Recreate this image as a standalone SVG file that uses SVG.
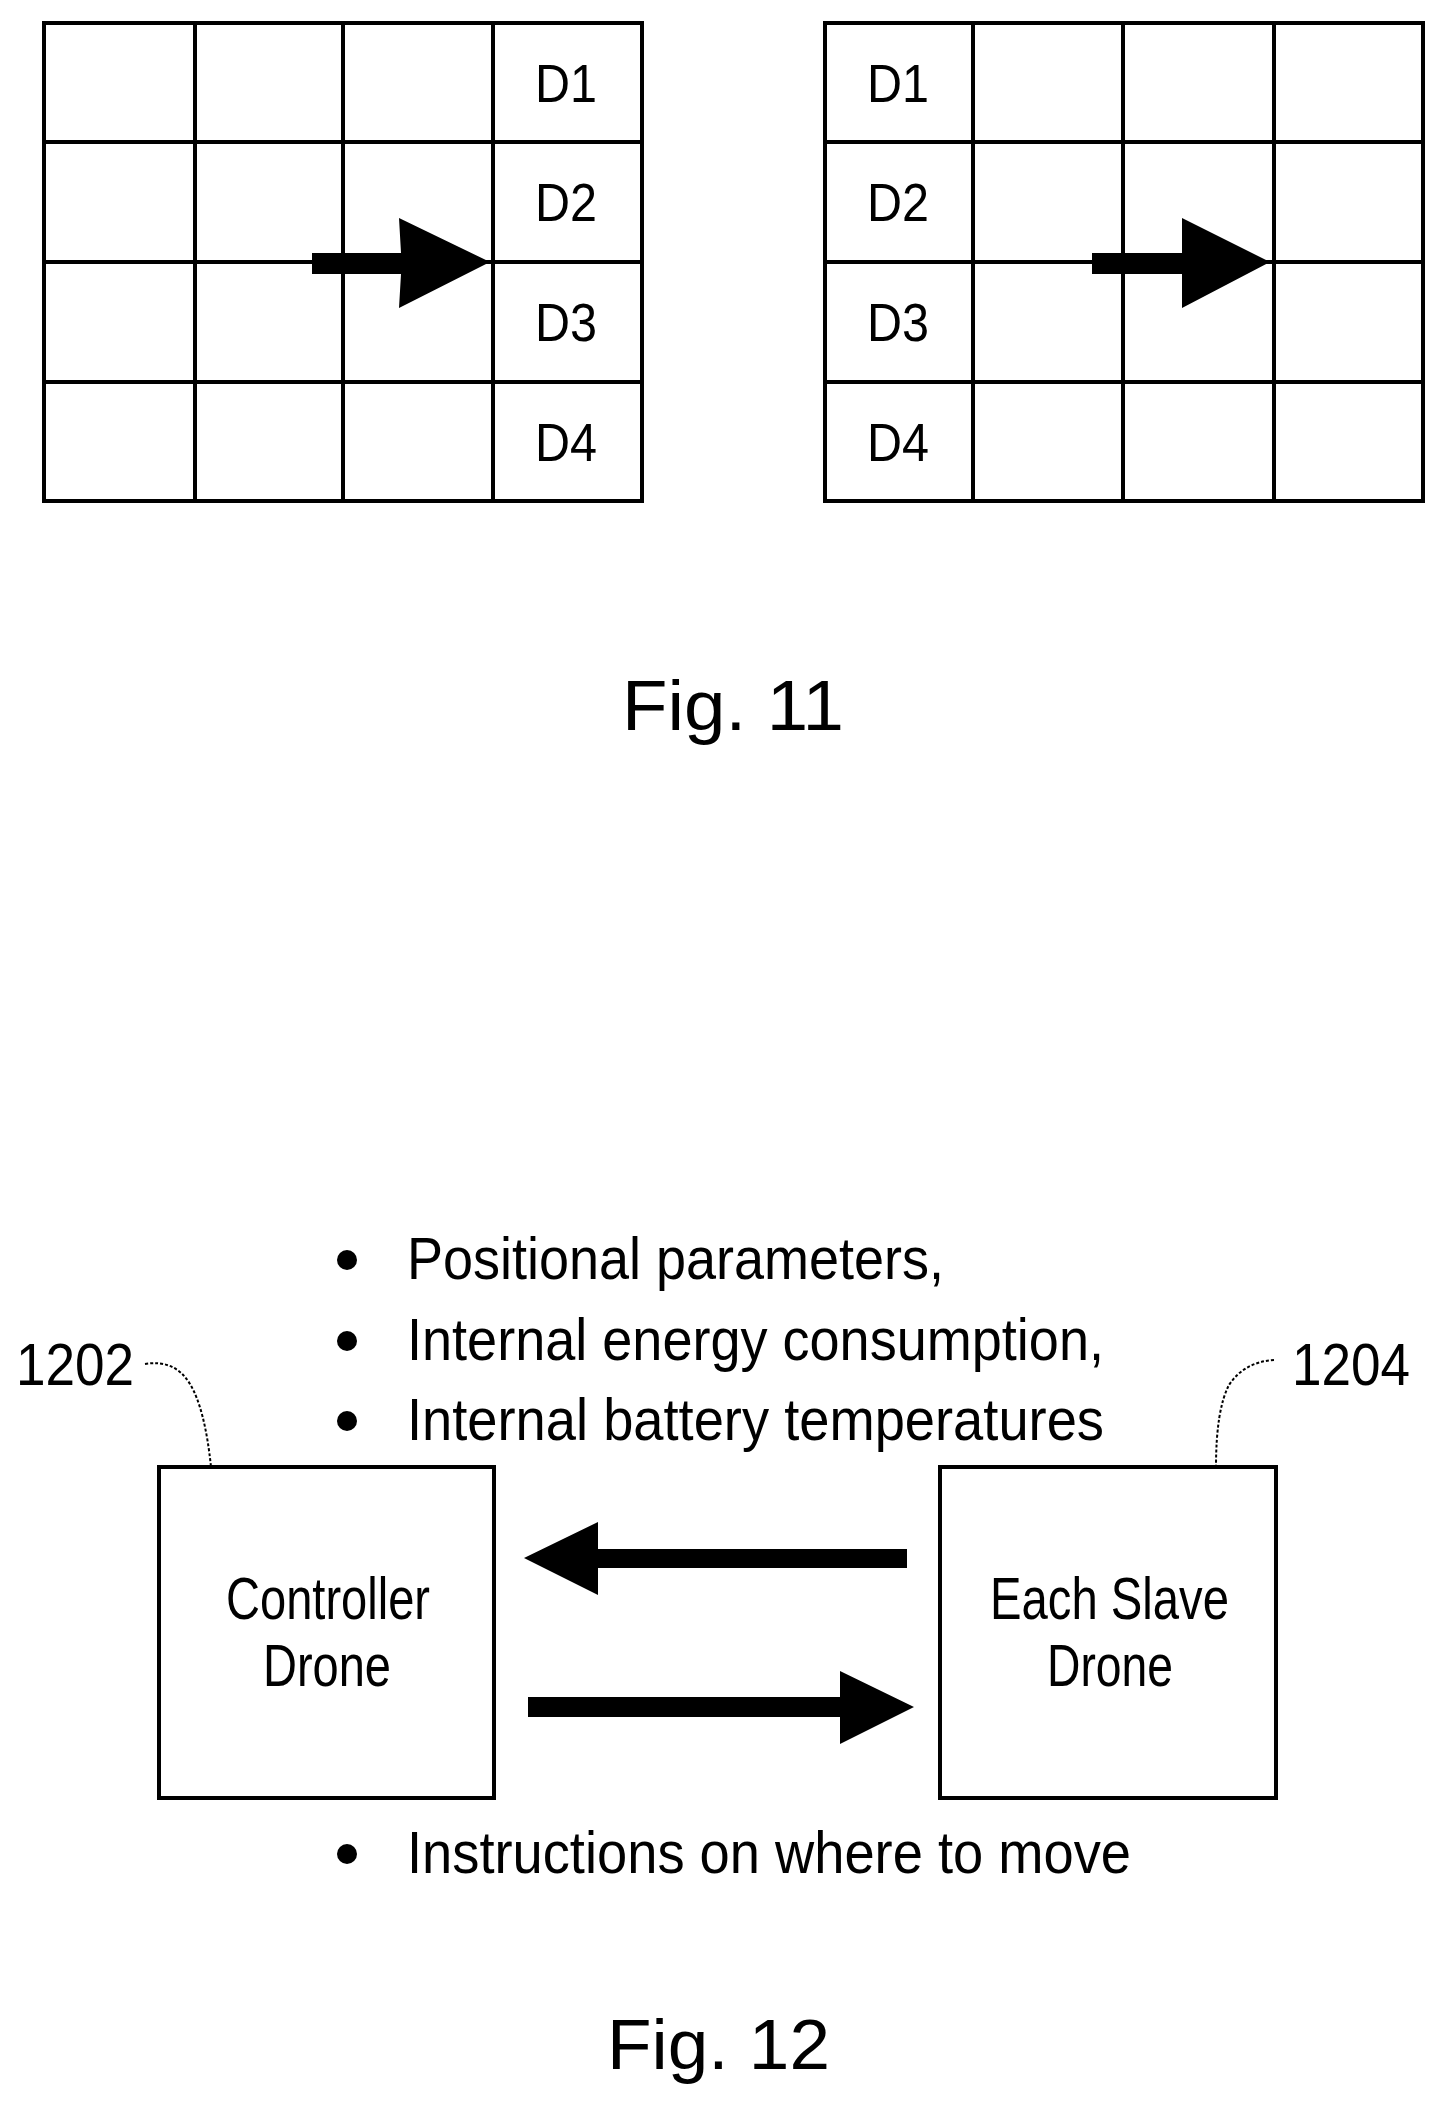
<svg xmlns="http://www.w3.org/2000/svg" width="1451" height="2114" viewBox="0 0 1451 2114">
<style>
.g{fill:none;stroke:#000;stroke-width:4}
.t{font-family:"Liberation Sans",Arial,sans-serif;fill:#000}
.d{font-size:54px}
.b{font-size:59px}
.f{font-size:70px}
</style>
<rect width="1451" height="2114" fill="#fff"/>
<g id="grid-left">
<rect class="g" x="44" y="23" width="598" height="478"/>
<path class="g" d="M195 23V501M343 23V501M493 23V501M44 142H642M44 262H642M44 382H642"/>
<text class="t d" x="535" y="102" textLength="62" lengthAdjust="spacingAndGlyphs">D1</text>
<text class="t d" x="535" y="221" textLength="62" lengthAdjust="spacingAndGlyphs">D2</text>
<text class="t d" x="535" y="341" textLength="62" lengthAdjust="spacingAndGlyphs">D3</text>
<text class="t d" x="535" y="461" textLength="62" lengthAdjust="spacingAndGlyphs">D4</text>
</g>
<g id="grid-right">
<rect class="g" x="825" y="23" width="598" height="478"/>
<path class="g" d="M973 23V501M1123 23V501M1274 23V501M825 142H1423M825 262H1423M825 382H1423"/>
<text class="t d" x="867" y="102" textLength="62" lengthAdjust="spacingAndGlyphs">D1</text>
<text class="t d" x="867" y="221" textLength="62" lengthAdjust="spacingAndGlyphs">D2</text>
<text class="t d" x="867" y="341" textLength="62" lengthAdjust="spacingAndGlyphs">D3</text>
<text class="t d" x="867" y="461" textLength="62" lengthAdjust="spacingAndGlyphs">D4</text>
</g>
<g id="fig11-arrows">
<polygon points="312,253 401,253 399,218 490,262 399,308 401,274 312,274" fill="#000"/>
<polygon points="1092,253 1182,253 1182,218 1270,262 1182,308 1182,274 1092,274" fill="#000"/>
</g>
<text class="t f" x="622" y="730" textLength="222" lengthAdjust="spacingAndGlyphs">Fig. 11</text>
<g id="bullets">
<circle cx="347" cy="1260" r="10"/><text class="t b" x="407" y="1279" textLength="537" lengthAdjust="spacingAndGlyphs">Positional parameters,</text>
<circle cx="347" cy="1341" r="10"/><text class="t b" x="407" y="1360" textLength="697" lengthAdjust="spacingAndGlyphs">Internal energy consumption,</text>
<circle cx="347" cy="1421" r="10"/><text class="t b" x="407" y="1440" textLength="697" lengthAdjust="spacingAndGlyphs">Internal battery temperatures</text>
<circle cx="347" cy="1854" r="10"/><text class="t b" x="407" y="1873" textLength="724" lengthAdjust="spacingAndGlyphs">Instructions on where to move</text>
</g>
<g id="controller">
<rect class="g" x="159" y="1467" width="335" height="331"/>
<text class="t b" x="226" y="1619" textLength="204" lengthAdjust="spacingAndGlyphs">Controller</text>
<text class="t b" x="263" y="1686" textLength="128" lengthAdjust="spacingAndGlyphs">Drone</text>
<text class="t b" x="16" y="1385" textLength="118" lengthAdjust="spacingAndGlyphs">1202</text>
<path d="M145 1364 q30 -5 45 20 q15 25 21 83" fill="none" stroke="#000" stroke-width="2" stroke-dasharray="3 2"/>
</g>
<g id="slave">
<rect class="g" x="940" y="1467" width="336" height="331"/>
<text class="t b" x="990" y="1619" textLength="239" lengthAdjust="spacingAndGlyphs">Each Slave</text>
<text class="t b" x="1047" y="1686" textLength="126" lengthAdjust="spacingAndGlyphs">Drone</text>
<text class="t b" x="1292" y="1385" textLength="118" lengthAdjust="spacingAndGlyphs">1204</text>
<path d="M1274 1360 q-30 2 -45 25 q-13 25 -13 82" fill="none" stroke="#000" stroke-width="2" stroke-dasharray="3 2"/>
</g>
<g id="connectors">
<polygon points="907,1549 598,1549 598,1522 524,1558 598,1595 598,1568 907,1568" fill="#000"/>
<polygon points="528,1697 840,1697 840,1671 914,1707 840,1744 840,1717 528,1717" fill="#000"/>
</g>
<text class="t f" x="607" y="2069" textLength="223" lengthAdjust="spacingAndGlyphs">Fig. 12</text>
</svg>
